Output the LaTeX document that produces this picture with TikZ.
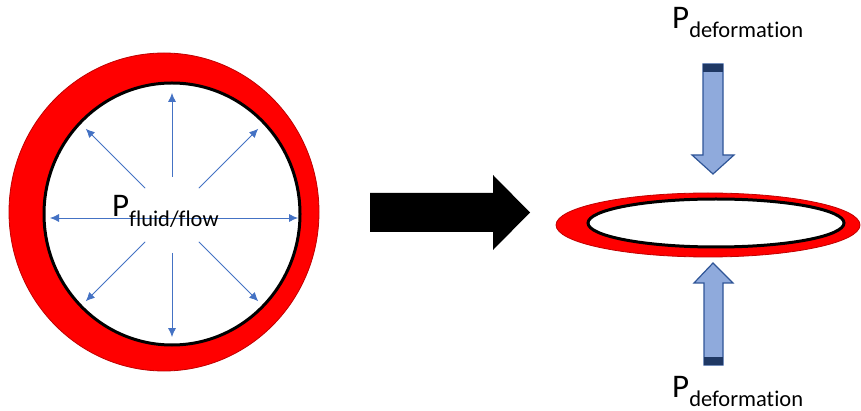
\documentclass[tikz,border=0pt]{standalone}
\usepackage{fontspec}
\setmainfont{Carlito}[Ligatures=NoCommon]
\usetikzlibrary{arrows.meta}
\definecolor{arrowblue}{HTML}{4472C4}
\definecolor{padfill}{HTML}{8FAADC}
\definecolor{padline}{HTML}{2F5597}
\definecolor{padcap}{HTML}{1F3864}
\newcommand{\plabel}[2]{{\fontsize{33}{33}\selectfont P}{\fontsize{22.5}{22.5}\selectfont\raisebox{-#2pt}{#1}}}

\begin{document}
\begin{tikzpicture}[x=1pt,y=-1pt,>=Latex,
  ringred/.style={fill=red,draw=red!75!black,line width=0.8},
  ringwall/.style={fill=white,draw=black,line width=3},
  flowarrow/.style={draw=arrowblue,line width=0.8,-{Latex[length=9pt,width=8pt]}},
  padarrow/.style={fill=padfill,draw=padline,line width=1.2,line join=miter}]
\useasboundingbox (0,0) rectangle (861,411);
% round vessel
\draw[ringred] (164,212) ellipse [x radius=155,y radius=159];
\draw[ringwall] (172,214) ellipse [x radius=128,y radius=131];
\coordinate (c) at (172,215);
\foreach \a in {45,90,135,225,270,315}
  \draw[flowarrow] (c)+(\a:38) -- +(\a:122);
\coordinate (wl) at (50,218);
\coordinate (wr) at (298,218);
\draw[flowarrow,{Latex[length=9pt,width=8pt]}-{Latex[length=9pt,width=8pt]}] (wl) -- (wr);
\node[anchor=base west,inner sep=0] (pflow) at (112,217) {\plabel{fluid/flow}{10}};
% block arrow
\fill[black] (370,193) -- (493,193) -- (493,175) -- (530,212.5) -- (493,250) -- (493,232) -- (370,232) -- cycle;
% flattened vessel
\draw[ringred] (708,225) ellipse [x radius=152,y radius=32];
\draw[ringwall] (716,223) ellipse [x radius=128,y radius=24];
% deformation loads
\filldraw[padarrow] (703,64) -- (723,64) -- (723,155) -- (734,155) -- (713,174) -- (692,155) -- (703,155) -- cycle;
\fill[padcap] (703,64) rectangle (723,72);
\filldraw[padarrow] (713,263) -- (733,283) -- (723,283) -- (723,365) -- (704,365) -- (704,283) -- (694,283) -- cycle;
\fill[padcap] (704,357) rectangle (723,365);
\node[anchor=base west,inner sep=0] (pdef_top) at (672,29) {\plabel{deformation}{9}};
\node[anchor=base west,inner sep=0] (pdef_bot) at (672,397) {\plabel{deformation}{9}};
\end{tikzpicture}
\end{document}
